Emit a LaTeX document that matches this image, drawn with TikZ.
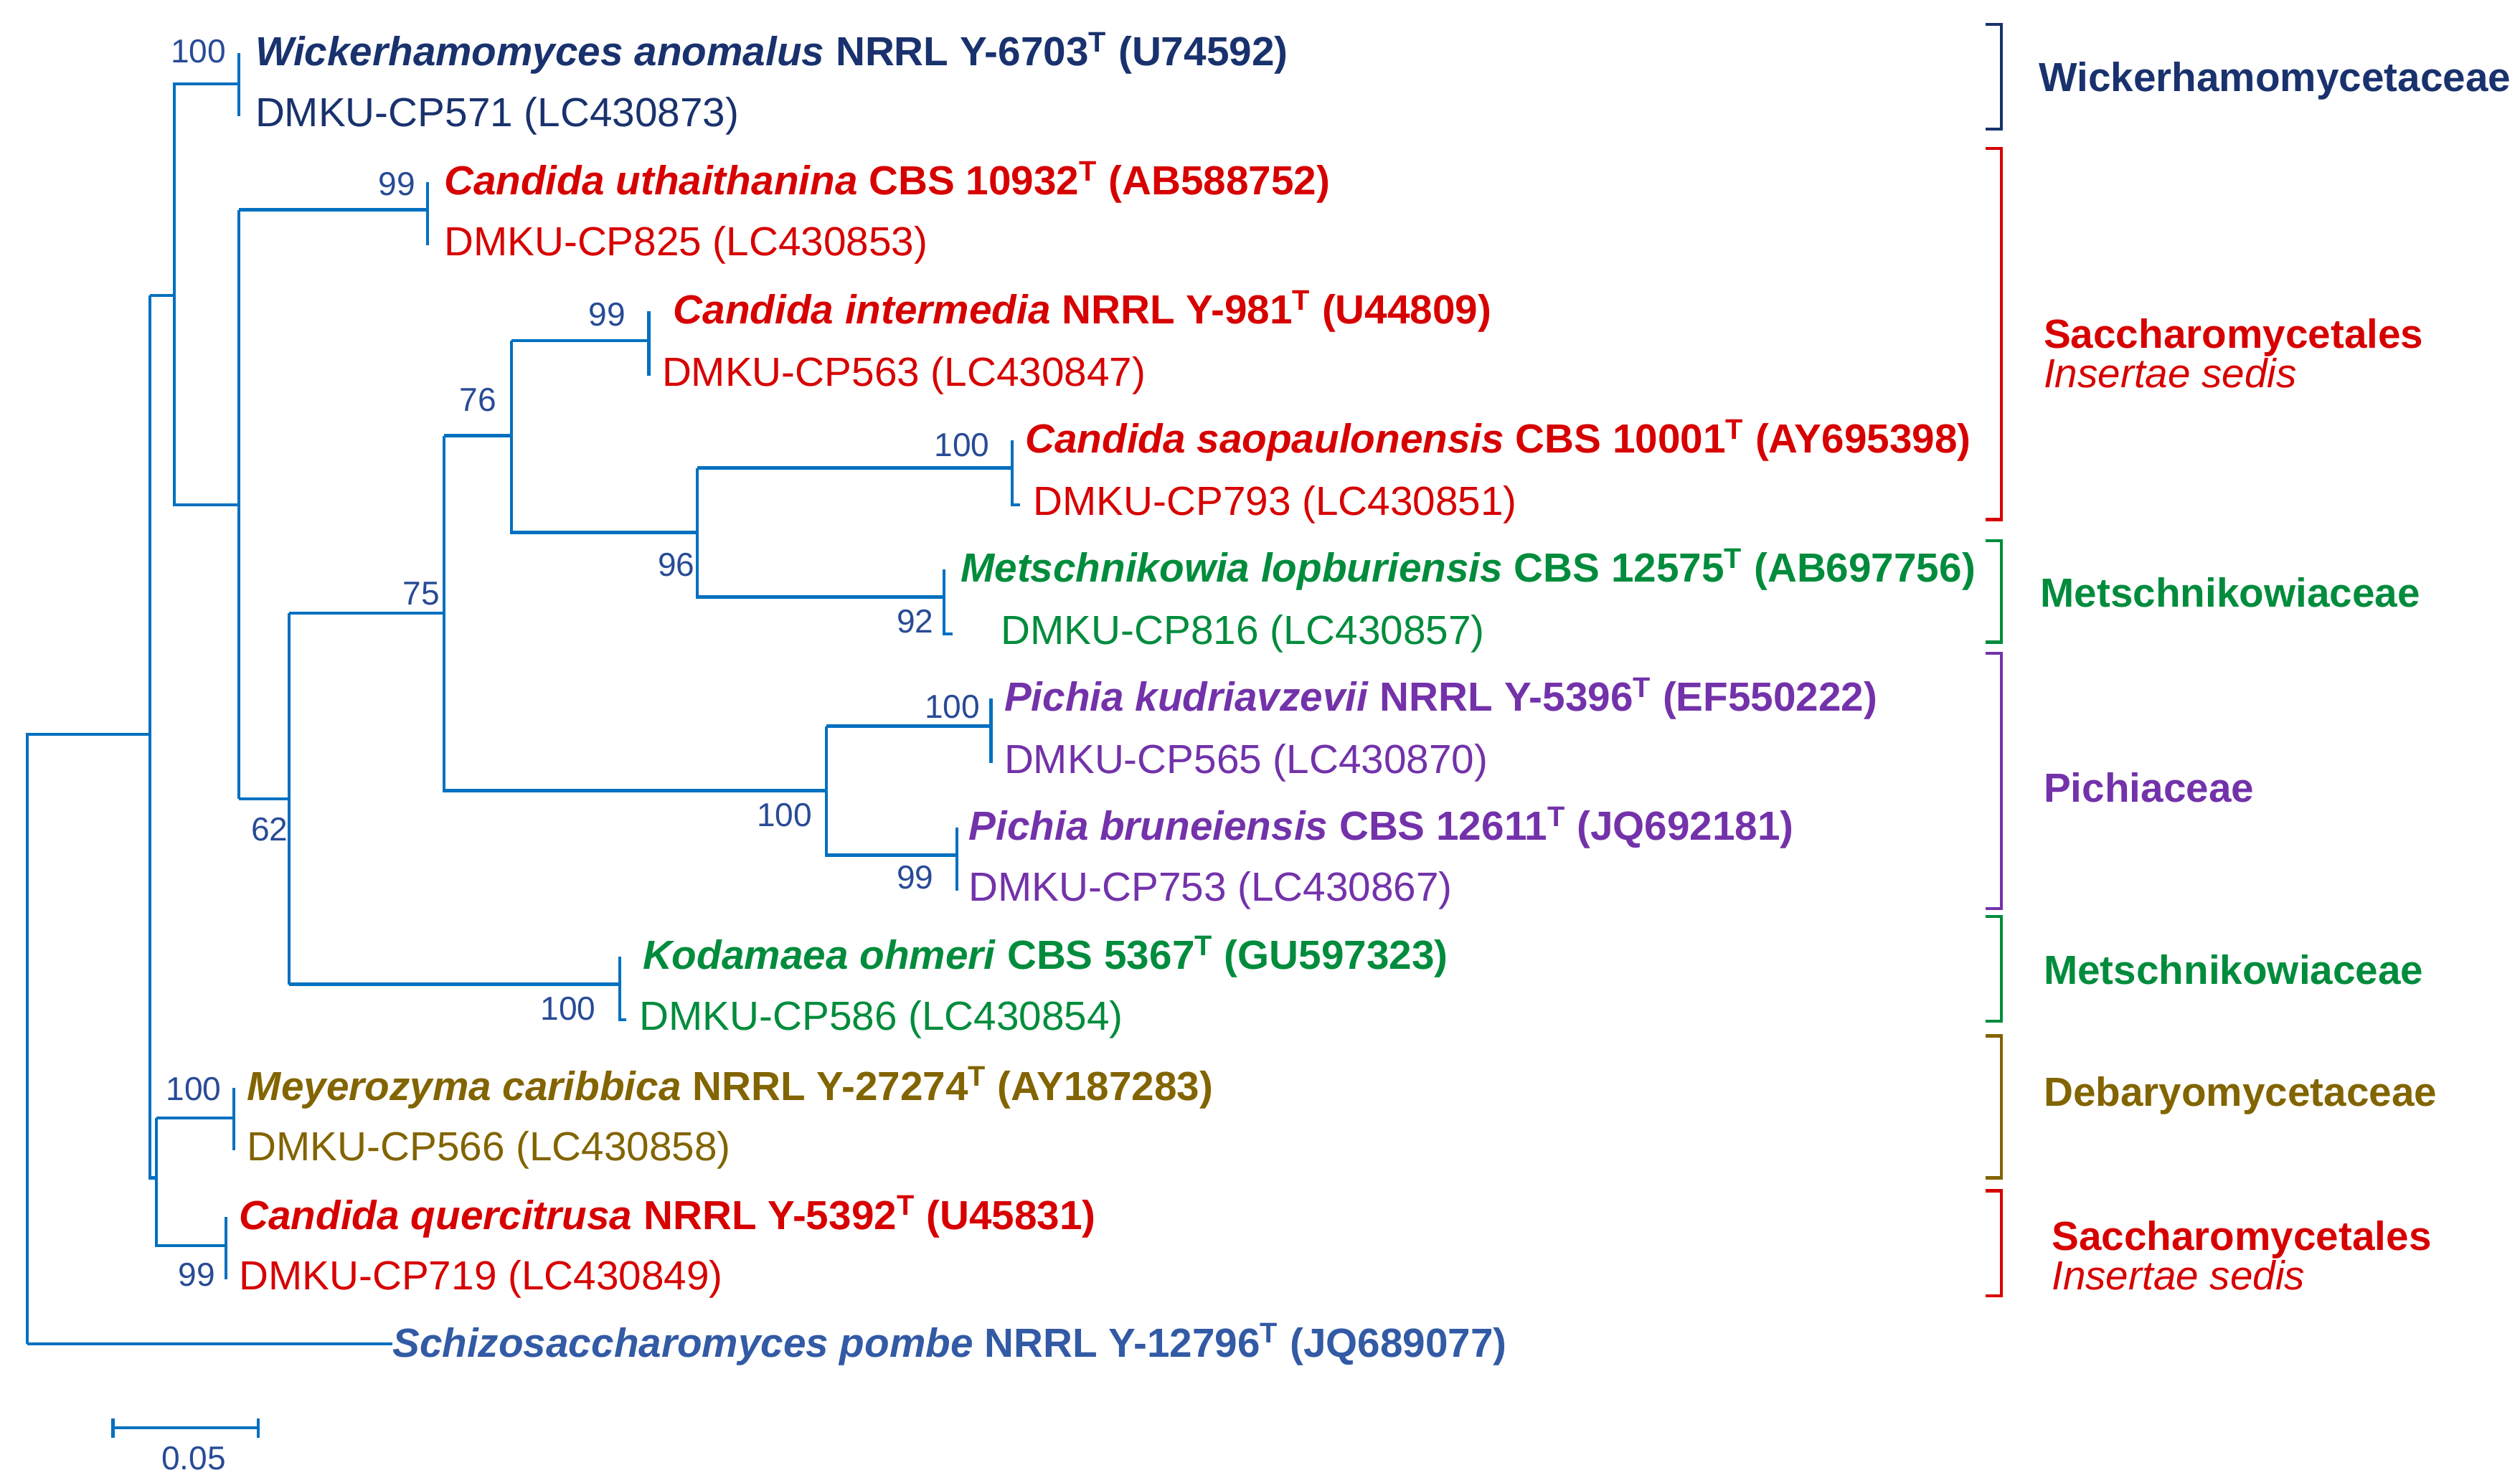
\documentclass[tikz,border=0pt]{standalone}
\usepackage{fontspec}
\setmainfont{Liberation Sans}
\usetikzlibrary{calc}
\definecolor{tr}{RGB}{0,112,192}
\definecolor{bs}{RGB}{40,75,150}
\definecolor{nv}{RGB}{25,50,110}
\definecolor{rd}{RGB}{215,0,0}
\definecolor{gr}{RGB}{0,140,60}
\definecolor{pu}{RGB}{115,50,170}
\definecolor{ol}{RGB}{130,100,0}
\definecolor{sb}{RGB}{50,90,165}
\begin{document}
\begin{tikzpicture}[x=0.03cm,y=-0.03cm,
 br/.style={tr,line width=1.6pt},
 lf/.style={anchor=west,inner sep=0pt,font=\fontsize{21.5}{24}\selectfont},
 bt/.style={bs,inner sep=0pt,font=\fontsize{17.5}{20}\selectfont},
 cl/.style={anchor=west,inner sep=0pt,font=\fontsize{21.5}{25}\selectfont\bfseries,align=left},
 bk/.style={line width=1.6pt}]
\useasboundingbox (0,0) rectangle (1561.3,919);
% leaves
\node[lf,nv] (l1) at (158,33) {\textbf{\textit{Wickerhamomyces anomalus} NRRL Y-6703\textsuperscript{T} (U74592)}};
\node[lf,nv] (l2) at (158,72) {DMKU-CP571 (LC430873)};
\node[lf,rd] (l3) at (275,113) {\textbf{\textit{Candida uthaithanina} CBS 10932\textsuperscript{T} (AB588752)}};
\node[lf,rd] (l4) at (275,152) {DMKU-CP825 (LC430853)};
\node[lf,rd] (l5) at (417,193) {\textbf{\textit{Candida intermedia} NRRL Y-981\textsuperscript{T} (U44809)}};
\node[lf,rd] (l6) at (410,233) {DMKU-CP563 (LC430847)};
\node[lf,rd] (l7) at (635,273) {\textbf{\textit{Candida saopaulonensis} CBS 10001\textsuperscript{T} (AY695398)}};
\node[lf,rd] (l8) at (640,313) {DMKU-CP793 (LC430851)};
\node[lf,gr] (l9) at (595,353) {\textbf{\textit{Metschnikowia lopburiensis} CBS 12575\textsuperscript{T} (AB697756)}};
\node[lf,gr] (l10) at (620,393) {DMKU-CP816 (LC430857)};
\node[lf,pu] (l11) at (622,433) {\textbf{\textit{Pichia kudriavzevii} NRRL Y-5396\textsuperscript{T} (EF550222)}};
\node[lf,pu] (l12) at (622,473) {DMKU-CP565 (LC430870)};
\node[lf,pu] (l13) at (600,513) {\textbf{\textit{Pichia bruneiensis} CBS 12611\textsuperscript{T} (JQ692181)}};
\node[lf,pu] (l14) at (600,552) {DMKU-CP753 (LC430867)};
\node[lf,gr] (l15) at (398,593) {\textbf{\textit{Kodamaea ohmeri} CBS 5367\textsuperscript{T} (GU597323)}};
\node[lf,gr] (l16) at (396,632) {DMKU-CP586 (LC430854)};
\node[lf,ol] (l17) at (153,674) {\textbf{\textit{Meyerozyma caribbica} NRRL Y-27274\textsuperscript{T} (AY187283)}};
\node[lf,ol] (l18) at (153,713) {DMKU-CP566 (LC430858)};
\node[lf,rd] (l19) at (148,754) {\textbf{\textit{Candida quercitrusa} NRRL Y-5392\textsuperscript{T} (U45831)}};
\node[lf,rd] (l20) at (148,793) {DMKU-CP719 (LC430849)};
\node[lf,sb] (l21) at (243,833) {\textbf{\textit{Schizosaccharomyces pombe} NRRL Y-12796\textsuperscript{T} (JQ689077)}};
% internal coordinates
\coordinate (r) at (17,455);
\coordinate (a) at (93,455);
\coordinate (b) at (108,183);
\coordinate (w) at (148,52);
\coordinate (c) at (148,313);
\coordinate (u) at (265,130);
\coordinate (d) at (179,495);
\coordinate (e) at (275,380);
\coordinate (f) at (317,270);
\coordinate (im) at (402,211);
\coordinate (g) at (432,330);
\coordinate (sp) at (627,290);
\coordinate (ml) at (585,370);
\coordinate (h) at (512,490);
\coordinate (pk) at (614,450);
\coordinate (pb) at (593,530);
\coordinate (ko) at (384,610);
\coordinate (i) at (97,730);
\coordinate (mc) at (145,693);
\coordinate (cq) at (140,772);
% branches
\draw[br] (r|-l21) -- (r) |- (a);
\draw[br] (l21.west) -- (r|-l21);
\draw[br] (a|-b) -- (a|-i) -- (i);
\draw[br] (a|-b) -- (b) |- (w);
\draw[br] (b) |- (c);
\draw[br] (w|-l1) -- (w|-l2);
\draw[br] (c|-u) -- (c|-d);
\draw[br] (c|-u) -- (u);
\draw[br] (u|-l3) -- (u|-l4);
\draw[br] (c|-d) -- (d);
\draw[br] (d|-e) -- (d|-ko);
\draw[br] (d|-e) -- (e);
\draw[br] (e|-f) -- (e|-h) -- (h);
\draw[br] (e|-f) -- (f);
\draw[br] (f|-im) -- (f|-g) -- (g);
\draw[br] (f|-im) -- (im);
\draw[br] (im|-l5) -- (im|-l6);
\draw[br] (g|-sp) -- (g|-ml) -- (ml);
\draw[br] (g|-sp) -- (sp);
\draw[br] (sp|-l7) -- (sp|-l8) -- ++(5,0);
\draw[br] (ml|-l9) -- (ml|-l10) -- ++(5,0);
\draw[br] (h|-pk) -- (h|-pb) -- (pb);
\draw[br] (h|-pk) -- (pk);
\draw[br] (pk|-l11) -- (pk|-l12);
\draw[br] (pb|-l13) -- (pb|-l14);
\draw[br] (d|-ko) -- (ko);
\draw[br] (ko|-l15) -- (ko|-l16) -- ++(4,0);
\draw[br] (i|-mc) -- (i|-cq) -- (cq);
\draw[br] (i|-mc) -- (mc);
\draw[br] (mc|-l17) -- (mc|-l18);
\draw[br] (cq|-l19) -- (cq|-l20);
% bootstrap
\node[bt] at (123,32) {100};
\node[bt] at (246,114) {99};
\node[bt] at (376,195) {99};
\node[bt] at (296,248) {76};
\node[bt] at (596,276) {100};
\node[bt] at (419,350) {96};
\node[bt] at (567,385) {92};
\node[bt] at (261,368) {75};
\node[bt] at (167,514) {62};
\node[bt] at (590,438) {100};
\node[bt] at (486,505) {100};
\node[bt] at (567,544) {99};
\node[bt] at (352,625) {100};
\node[bt] at (120,675) {100};
\node[bt] at (122,790) {99};
% brackets
\draw[bk,nv] (1230,15) -- (1240,15) -- (1240,80) -- (1230,80);
\node[cl,nv] (k1) at (1263,50) {Wickerhamomycetaceae};
\draw[bk,rd] (1230,92) -- (1240,92) -- (1240,322) -- (1230,322);
\node[cl,rd] (k2) at (1266,219) {Saccharomycetales\\[-4pt]\mdseries\itshape Insertae sedis};
\draw[bk,gr] (1230,335) -- (1240,335) -- (1240,398) -- (1230,398);
\node[cl,gr] (k3) at (1264,367) {Metschnikowiaceae};
\draw[bk,pu] (1230,405) -- (1240,405) -- (1240,563) -- (1230,563);
\node[cl,pu] (k4) at (1266,488) {Pichiaceae};
\draw[bk,gr] (1230,568) -- (1240,568) -- (1240,633) -- (1230,633);
\node[cl,gr] (k5) at (1266,601) {Metschnikowiaceae};
\draw[bk,ol] (1230,642) -- (1240,642) -- (1240,730) -- (1230,730);
\node[cl,ol] (k6) at (1266,679) {Debaryomycetaceae};
\draw[bk,rd] (1230,738) -- (1240,738) -- (1240,803) -- (1230,803);
\node[cl,rd] (k7) at (1271,778) {Saccharomycetales\\[-4pt]\mdseries\itshape Insertae sedis};
% scale bar
\coordinate (s1) at (70,885);
\coordinate (s2) at (160,885);
\draw[br] (s1) -- (s2);
\draw[br] ($(s1)+(0,-6)$) -- ($(s1)+(0,6)$);
\draw[br] ($(s2)+(0,-6)$) -- ($(s2)+(0,6)$);
\node[bt] (sl) at (120,904) {0.05};
\end{tikzpicture}
\end{document}
